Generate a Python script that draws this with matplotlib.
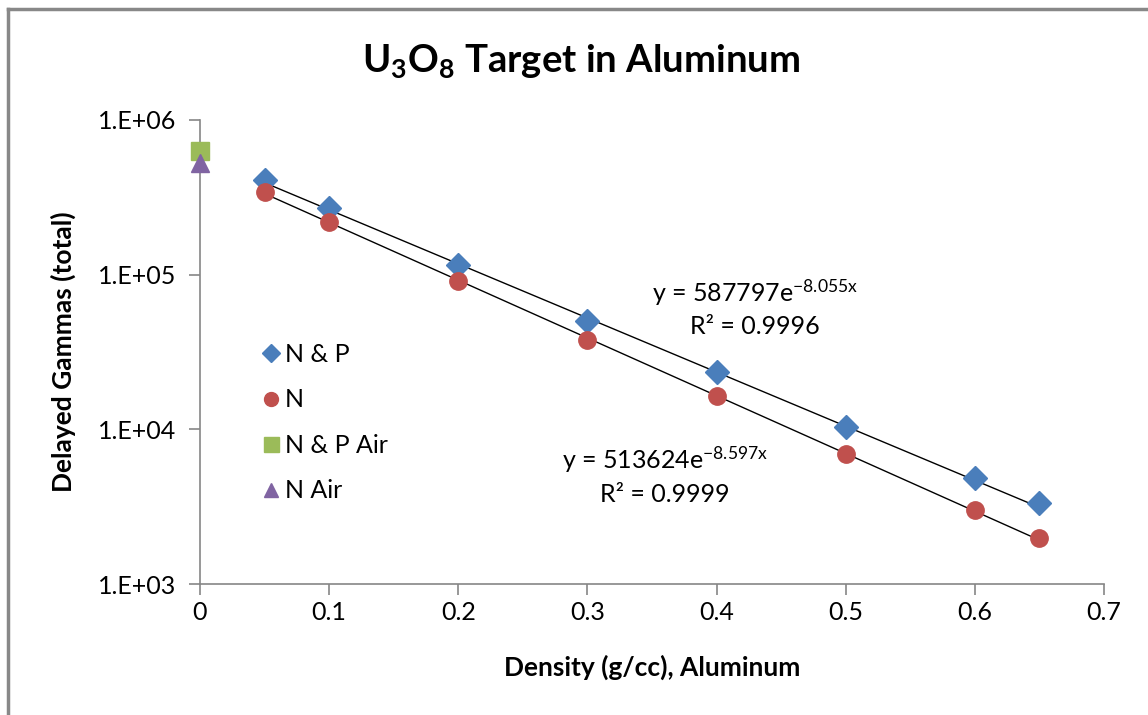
import numpy as np
import matplotlib
matplotlib.use('Agg')
import matplotlib.pyplot as plt
from matplotlib import rcParams
from matplotlib.lines import Line2D
from matplotlib.ticker import FixedLocator, FuncFormatter, NullLocator

rcParams['font.family'] = ['Lato', 'DejaVu Sans']
rcParams['mathtext.fontset'] = 'custom'
rcParams['mathtext.rm'] = 'Lato'
rcParams['mathtext.it'] = 'Lato'
rcParams['mathtext.bf'] = 'Lato:bold'

# data
density = [0.05, 0.1, 0.2, 0.3, 0.4, 0.5, 0.6, 0.65]
np_gammas = [410000, 270000, 115500, 50000, 23500, 10350, 4840, 3340]
n_gammas = [342000, 219000, 91000, 37800, 16400, 6930, 3010, 1980]
air_density = [0]
np_air = [630000]
n_air = [527000]

# exponential trendlines y = a*exp(b*x)
np_fit = (587797, -8.055, 0.9996)
n_fit = (513624, -8.597, 0.9999)

fig = plt.figure(figsize=(11.48, 7.15), dpi=100)
ax = fig.add_axes([0.1742, 0.1832, 0.7875, 0.649])

blue = '#4a7ebb'
red = '#c0504d'
green = '#9bbb59'
purple = '#8064a2'

xs = np.linspace(min(density), max(density), 100)
for a, b, r in (np_fit, n_fit):
    ax.plot(xs, a * np.exp(b * xs), color='black', lw=1.0, zorder=2)

ax.plot(density, np_gammas, 'D', color=blue, ms=12, label='N & P', zorder=3)
ax.plot(density, n_gammas, 'o', color=red, ms=12.5, label='N', zorder=3)
ax.plot(air_density, np_air, 's', color=green, ms=13.5, label='N & P Air', zorder=4, clip_on=False)
ax.plot(air_density, n_air, '^', color=purple, ms=13, label='N Air', zorder=4, clip_on=False)

ax.set_yscale('log')
ax.set_ylim(1e3, 1e6)
ax.set_xlim(0, 0.7)
ax.yaxis.set_major_locator(FixedLocator([1e3, 1e4, 1e5, 1e6]))
ax.yaxis.set_minor_locator(NullLocator())
ax.yaxis.set_major_formatter(FuncFormatter(lambda v, p: '1.E+%02d' % round(np.log10(v))))
ax.set_xticks(np.arange(0, 0.71, 0.1))
ax.xaxis.set_major_formatter(FuncFormatter(lambda v, p: '0' if v == 0 else ('%.1f' % v)))

for s in ['top', 'right']:
    ax.spines[s].set_visible(False)
for s in ['left', 'bottom']:
    ax.spines[s].set_color('#868686')
    ax.spines[s].set_linewidth(1.2)
ax.tick_params(axis='both', direction='out', length=8, width=1.2, color='#868686',
               labelsize=18, pad=4)
ax.tick_params(axis='y', pad=9)

ax.set_xlabel('Density (g/cc), Aluminum', fontsize=19, fontweight='bold', labelpad=22)
ax.set_ylabel('Delayed Gammas (total)', fontsize=19, fontweight='bold', labelpad=16)
fig.text(0.506, 0.915, r'U$_\mathbf{3}$O$_\mathbf{8}$ Target in Aluminum', fontsize=27.5,
         fontweight='bold', ha='center', va='center')

# trendline equations
ax.text(0.43, 7.6e4, r'y = 587797e$^{-8.055x}$', fontsize=18, ha='center', va='center')
ax.text(0.43, 4.6e4, 'R² = 0.9996', fontsize=18, ha='center', va='center')
ax.text(0.36, 6.4e3, r'y = 513624e$^{-8.597x}$', fontsize=18, ha='center', va='center')
ax.text(0.36, 3.8e3, 'R² = 0.9999', fontsize=18, ha='center', va='center')

leg = ax.legend(loc='upper left', bbox_to_anchor=(0.04, 0.568), frameon=False,
                fontsize=18, labelspacing=0.9, handletextpad=0.05, markerscale=0.8,
                handlelength=1.0)

# chart border (Excel frame)
fig.add_artist(Line2D([8 / 1148, 1], [1 - 9 / 715, 1 - 9 / 715], color='#888888', lw=2.5))
fig.add_artist(Line2D([8 / 1148, 8 / 1148], [0, 1 - 9 / 715], color='#888888', lw=2.5))

fig.savefig('out.png', dpi=100)
